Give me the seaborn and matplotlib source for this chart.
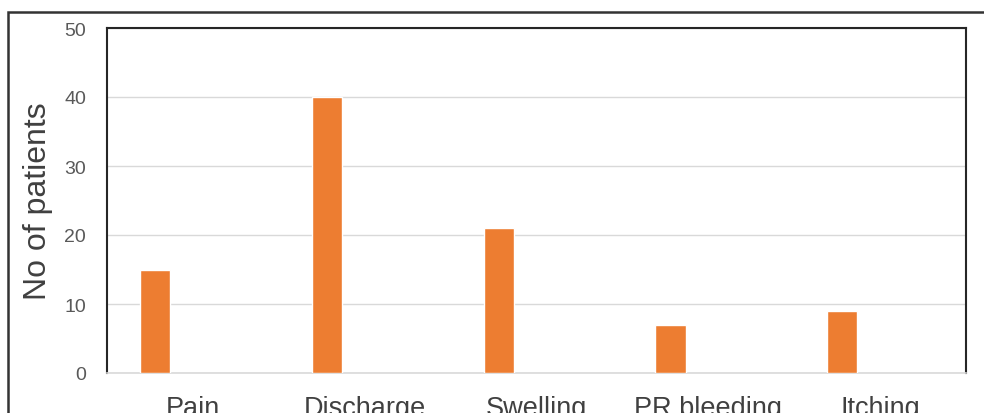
import numpy as np
import pandas as pd
import matplotlib
matplotlib.use("Agg")
import matplotlib.pyplot as plt
import seaborn as sns
from matplotlib.patches import Rectangle

symptoms = ["Pain", "Discharge", "Swelling", "PR bleeding", "Itching"]
patients = [15, 40, 21, 7, 9]
y_ticks = [0, 10, 20, 30, 40, 50]

df = pd.DataFrame({"Symptom": symptoms, "Patients": patients, "Series": "Series 1"})

sns.set_style("white")
plt.rcParams["font.family"] = ["Liberation Sans", "DejaVu Sans"]

fig = plt.figure(figsize=(9.84, 4.14), dpi=100)
ax = fig.add_axes([107 / 984, 1 - 374 / 414, (966 - 107) / 984, (374 - 29) / 414])

# second (empty) series keeps the Excel-like clustered offset
sns.barplot(data=df, x="Symptom", y="Patients", hue="Series",
            hue_order=["Series 1", "Series 2"], palette=["#ED7D31", "#A5A5A5"],
            dodge=True, width=0.88, gap=0.6, saturation=1, legend=False,
            ax=ax, zorder=3)

ax.set_ylim(0, 50)
ax.set_xlim(-0.5, len(symptoms) - 0.5)
ax.set_yticks(y_ticks)
ax.yaxis.grid(True, color="#d9d9d9", linewidth=1, zorder=0)
ax.set_axisbelow(True)
ax.set_xlabel("")
ax.set_ylabel("No of patients", fontsize=23, color="#404040", labelpad=8)

for side in ["left", "top", "right"]:
    ax.spines[side].set_color("#262626")
    ax.spines[side].set_linewidth(1.5)
ax.spines["bottom"].set_color("#d9d9d9")
ax.spines["bottom"].set_linewidth(1.2)

ax.tick_params(axis="y", length=0, pad=15, labelsize=14, labelcolor="#595959")
ax.tick_params(axis="x", length=0, pad=16, labelsize=19.5, labelcolor="#404040")

# outer chart border
fig.add_artist(Rectangle((8 / 984, -0.1), 1.1, 1 - 13 / 414 + 0.1,
                         transform=fig.transFigure, fill=False,
                         edgecolor="#333333", linewidth=1.8, clip_on=False))

fig.savefig("out.png", dpi=100)
